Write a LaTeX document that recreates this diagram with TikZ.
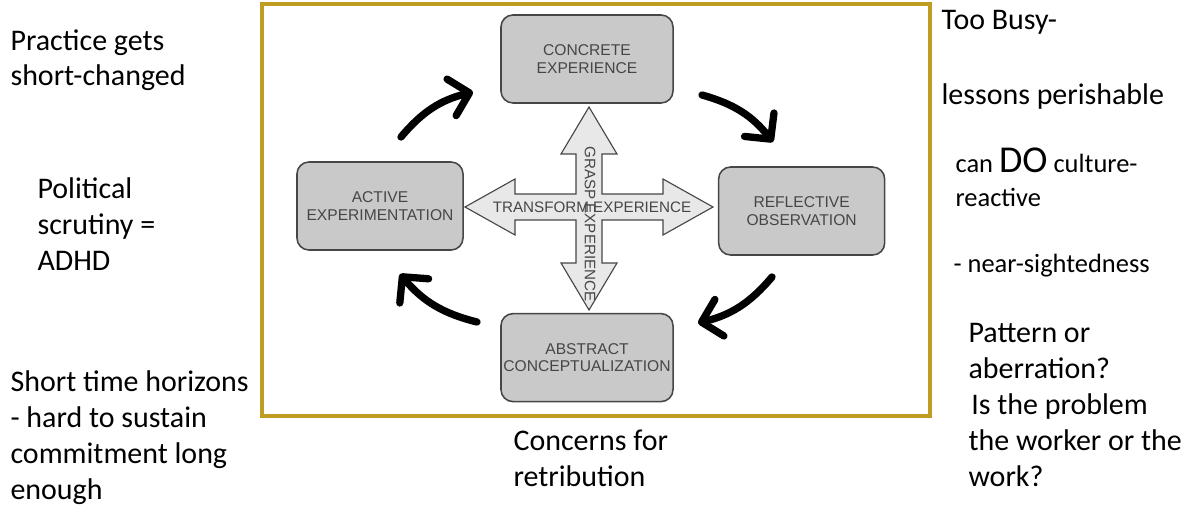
\documentclass[tikz,border=0pt]{standalone}
\usepackage{fontspec}
\setmainfont{Carlito}
\newfontfamily\kolbfont{Liberation Sans}
\usetikzlibrary{positioning,arrows.meta}
\definecolor{framegold}{RGB}{191,157,34}
\definecolor{boxgray}{RGB}{201,201,201}
\definecolor{crossgray}{RGB}{232,232,232}
\definecolor{inkgray}{RGB}{70,70,70}

\begin{document}
\begin{tikzpicture}[x=0.025cm,y=-0.025cm,thick,
    stage node/.style={draw=inkgray,fill=boxgray,rounded corners=0.3cm,line width=1.1pt,minimum width=4.15cm,minimum height=2.2cm,align=center,inner sep=0pt,text=inkgray,font=\kolbfont\fontsize{11.1pt}{12.5pt}\selectfont},
    cross label/.style={inner sep=0pt,text=inkgray,font=\kolbfont\fontsize{10.8pt}{12pt}\selectfont},
    cross shape/.style={draw=inkgray,fill=crossgray,line width=0.8pt,line join=miter},
    cycle arrow/.style={line width=5.2pt,line cap=round,-{Straight Barb[length=4.6mm,width=9.4mm,round]},bend left=18},
    side text/.style={anchor=base west,align=left,inner sep=0pt,font=\fontsize{21.3pt}{25.5pt}\selectfont},
    small side/.style={side text,font=\fontsize{18.8pt}{24pt}\selectfont}]
    \useasboundingbox (0,0) rectangle (1199,512);

    % frame round the cycle
    \draw[framegold,line width=2.2pt] (262,4) rectangle (930,416);

    % the four stages
    \node[stage node,minimum width=4.3cm] (concrete) at (587,59) {CONCRETE\\EXPERIENCE};
    \node[stage node,minimum width=4.3cm] (abstract) [below=5.225cm of concrete] {ABSTRACT\\CONCEPTUALIZATION};
    \node[stage node] (active) at (380,206) {ACTIVE\\EXPERIMENTATION};
    \node[stage node] (reflective) [right=6.35cm of active,yshift=-1.25mm] {REFLECTIVE\\OBSERVATION};

    % cross of double arrows
    \coordinate (hub) at (589,207);
    \draw[cross shape,shift={(hub)}] (0,-100) -- (28,-53) -- (13,-53) -- (13,-13) -- (74,-13) -- (74,-28) -- (124,0)
        -- (74,28) -- (74,13) -- (13,13) -- (13,56) -- (28,56) -- (0,103) -- (-28,56) -- (-13,56) -- (-13,13)
        -- (-74,13) -- (-74,28) -- (-124,0) -- (-74,-28) -- (-74,-13) -- (-13,-13) -- (-13,-53) -- (-28,-53) -- cycle;
    \node[cross label] (transform) at (592,207) {TRANSFORM EXPERIENCE};
    \node[cross label,rotate=-90] (grasp) at (590,224) {GRASP EXPERIENCE};

    % cycle arrows
    \coordinate (ac from) at (401,137);
    \coordinate (ac to) at (473,92);
    \coordinate (cr from) at (702,95);
    \coordinate (cr to) at (773,142);
    \coordinate (ra from) at (772,277);
    \coordinate (ra to) at (698,323);
    \coordinate (aa from) at (477,322);
    \coordinate (aa to) at (400,274);
    \draw[cycle arrow] (ac from) to (ac to);
    \draw[cycle arrow] (cr from) to (cr to);
    \draw[cycle arrow] (ra from) to (ra to);
    \draw[cycle arrow] (aa from) to (aa to);

    % notes round the picture (placed at the baseline of their last line)
    \node[side text] (practice) at (10,86) {Practice gets\\short-changed};
    \node[side text] (political) at (37,270) {Political\\scrutiny =\\ADHD};
    \node[side text] (horizons) at (10,499) {Short time horizons\\- hard to sustain\\commitment long\\enough};
    \node[side text] (retribution) at (513,486) {Concerns for\\retribution};
    \node[side text] (busy) at (941,30) {Too Busy-};
    \node[side text] (perishable) at (941,105) {lessons perishable};
    \node[small side] (culture) at (955,206) {can {\fontsize{27pt}{27pt}\selectfont DO} culture-\\reactive};
    \node[small side] (sighted) at (953,272) {- near-sightedness};
    \node[side text] (pattern) at (968,486) {Pattern or\\aberration?\\\kern2pt Is the problem\\the worker or the\\work?};
\end{tikzpicture}
\end{document}
